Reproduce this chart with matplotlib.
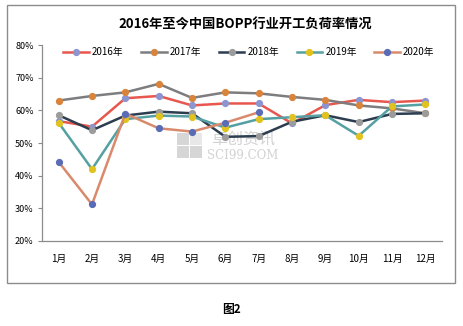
import matplotlib
matplotlib.use("Agg")
import matplotlib.pyplot as plt
from matplotlib.patches import Rectangle

plt.rcParams['font.family'] = ['Noto Sans CJK SC', 'DejaVu Sans']

months = ["1月", "2月", "3月", "4月", "5月", "6月", "7月", "8月", "9月", "10月", "11月", "12月"]
y2016 = [56.7, 55.0, 63.7, 64.4, 61.5, 62.1, 62.1, 56.0, 61.6, 63.2, 62.5, 63.0]
y2017 = [63.0, 64.4, 65.5, 68.1, 63.8, 65.5, 65.2, 64.1, 63.2, 61.5, 60.6, 59.1]
y2018 = [58.5, 53.9, 58.4, 59.6, 59.1, 51.9, 52.1, 56.5, 58.5, 56.4, 58.9, 59.1]
y2019 = [56.2, 42.0, 57.3, 58.4, 58.1, 54.7, 57.3, 57.9, 58.5, 52.2, 61.2, 61.8]
y2020 = [44.2, 31.2, 59.0, 54.5, 53.5, 56.2, 59.4]
series_names = ["2016年", "2017年", "2018年", "2019年", "2020年"]
yticks = [20, 30, 40, 50, 60, 70, 80]

line_colors = ["#e8574d", "#7d7d80", "#2b3d4f", "#55a0a3", "#d98a6c"]
marker_colors = ["#8c95d0", "#d8843c", "#9c9c9c", "#e2c21e", "#5b6cb6"]

W, H = 464, 326
fig = plt.figure(figsize=(4.64, 3.26), dpi=100)
fig.patches.append(Rectangle((7/W, (H-283)/H), (455-7)/W, (283-5)/H,
                             transform=fig.transFigure, fill=False,
                             edgecolor="#8c8c8c", linewidth=1.0))

# watermark icon (four squares), behind the axes content
for (px, py, c) in [(177, 133, "#d6d6d6"), (190, 133, "#e8e8e8"), (177, 146, "#d6d6d6"), (190, 146, "#d6d6d6")]:
    fig.patches.append(Rectangle((px/W, (H-py-12)/H), 12/W, 12/H, transform=fig.transFigure,
                                 facecolor=c, edgecolor="none", zorder=-1))

ax = fig.add_axes([42/W, (H-241)/H, (442-42)/W, (241-45)/H])
ax.patch.set_alpha(0)

ax.text(6.53, 48.6, "卓创资讯", fontsize=11.5, color="#d2d2d2", ha="center", va="bottom", zorder=0)
ax.text(6.53, 48.3, "SCI99.COM", fontsize=8.5, color="#d2d2d2", ha="center", va="top",
        family="DejaVu Serif", zorder=0)

data = [y2016, y2017, y2018, y2019, y2020]
for i, (vals, name) in enumerate(zip(data, series_names)):
    xs = list(range(1, len(vals) + 1))
    ax.plot(xs, vals, color=line_colors[i], linewidth=1.8, marker="o", markersize=4.2,
            markerfacecolor=marker_colors[i], markeredgecolor=marker_colors[i],
            label=name, zorder=2 + i)

ax.set_xlim(0.5, 12.5)
ax.set_ylim(20, 80)
ax.set_yticks(yticks)
ax.set_yticklabels([f"{v}%" for v in yticks], fontsize=6.5)
ax.set_xticks(range(1, 13))
ax.set_xticklabels(months, fontsize=7)
ax.tick_params(axis="x", length=0, pad=9)
ax.tick_params(axis="y", length=3, color="#8c8c8c", pad=3)
for s in ["top", "right"]:
    ax.spines[s].set_visible(False)
for s in ["left", "bottom"]:
    ax.spines[s].set_color("#8c8c8c")
    ax.spines[s].set_linewidth(0.9)

fig.text(245/W, 1 - 25/H, "2016年至今中国BOPP行业开工负荷率情况", ha="center", va="center",
         fontsize=9.5, fontweight="bold")
leg = ax.legend(loc="center", bbox_to_anchor=(249/W, 1 - 52/H), bbox_transform=fig.transFigure,
                ncol=5, frameon=False, fontsize=7, handlelength=2.6, columnspacing=1.8,
                handletextpad=0.35)
fig.text(232/W, 1 - 309/H, "图2", ha="center", va="center", fontsize=8.5, fontweight="bold")

fig.savefig("out.png", dpi=100)
